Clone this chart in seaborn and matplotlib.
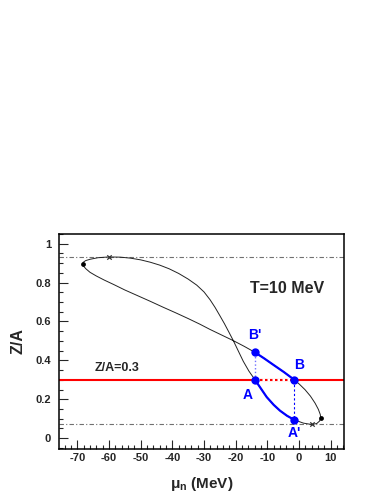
"""Z/A vs neutron chemical potential loop at T=10 MeV."""

import matplotlib

matplotlib.use("Agg")

import matplotlib.pyplot as plt
import pandas as pd
import seaborn as sns
from matplotlib.ticker import MultipleLocator

# closed loop (mu_n in MeV, Z/A)
loop_mu = [
    -68.3, -68.1, -67.4, -66.0, -63.5, -60.1, -56.5, -53.3, -50.0, -47.0,
    -44.0, -41.0, -38.0, -35.0, -32.3, -30.0, -28.1, -26.5, -25.0, -23.6,
    -22.3, -20.7, -19.2, -17.6, -15.8, -13.9, -12.0, -10.2, -8.0, -6.0,
    -3.8, -1.5, 1.4, 4.0, 5.6, 6.5, 6.85, 6.7, 6.1, 5.06,
    3.6, 1.9, 0.2, -1.5, -4.8, -8.1, -11.0, -13.9, -17.3, -20.7,
    -24.4, -28.1, -31.3, -35.0, -39.0, -43.0, -47.0, -51.0, -55.0, -58.5,
    -61.5, -64.0, -66.0, -67.3, -68.0, -68.3,
]
loop_za = [
    0.896, 0.905, 0.913, 0.920, 0.928, 0.932, 0.931, 0.926, 0.917, 0.905,
    0.890, 0.871, 0.847, 0.818, 0.787, 0.752, 0.712, 0.672, 0.630, 0.590,
    0.550, 0.500, 0.449, 0.395, 0.344, 0.300, 0.254, 0.211, 0.171, 0.141,
    0.115, 0.094, 0.077, 0.070, 0.075, 0.088, 0.105, 0.122, 0.148, 0.180,
    0.216, 0.249, 0.276, 0.300, 0.340, 0.377, 0.410, 0.441, 0.472, 0.501,
    0.530, 0.559, 0.586, 0.615, 0.645, 0.674, 0.704, 0.733, 0.762, 0.790,
    0.813, 0.834, 0.853, 0.871, 0.884, 0.896,
]

# highlighted branches
aa_mu = [-13.9, -12.0, -10.2, -8.0, -6.0, -3.8, -1.5]
aa_za = [0.300, 0.254, 0.211, 0.171, 0.141, 0.115, 0.094]
bb_mu = [-1.5, -4.8, -8.1, -11.0, -13.9]
bb_za = [0.300, 0.340, 0.377, 0.410, 0.441]

point_names = ["A", "B", "A'", "B'"]
point_mu = [-13.9, -1.5, -1.5, -13.9]
point_za = [0.300, 0.300, 0.094, 0.441]

dot_mu = [-68.3, 6.85]
dot_za = [0.896, 0.105]
cross_mu = [-60.1, 4.0]
cross_za = [0.932, 0.070]

za_max = 0.932
za_min = 0.070
za_cut = 0.3

BLUE = "#0000ff"
RED = "#ff0000"


def main() -> None:
    sns.set_style("ticks")
    plt.rcParams["font.family"] = ["Liberation Sans", "DejaVu Sans"]
    plt.rcParams["font.weight"] = "bold"
    plt.rcParams["axes.unicode_minus"] = False
    plt.rcParams["mathtext.fontset"] = "custom"
    plt.rcParams["mathtext.bf"] = "Liberation Sans:bold"
    plt.rcParams["mathtext.rm"] = "Liberation Sans"

    fig = plt.figure(figsize=(3.85, 4.98), dpi=100)
    ax = fig.add_axes([0.154, 0.0992, 0.7395, 0.4309])

    ax.set_xlim(-75.7, 14.2)
    ax.set_ylim(-0.054, 1.05)

    dashdot = (0, (4, 2, 1, 2))
    ax.axhline(za_max, color="#707070", lw=0.8, ls=dashdot, zorder=1)
    ax.axhline(za_min, color="#707070", lw=0.8, ls=dashdot, zorder=1)
    ax.axhline(za_cut, color=RED, lw=1.5, zorder=2)

    loop = pd.DataFrame({"mu": loop_mu, "za": loop_za})
    sns.lineplot(data=loop, x="mu", y="za", sort=False, estimator=None,
                 color="#222222", lw=0.7, ax=ax, zorder=3)

    # guides between the points
    ax.plot([point_mu[0], point_mu[3]], [point_za[0], point_za[3]],
            color="#6f6fff", lw=1.0, ls=":", zorder=3)
    ax.plot([point_mu[1], point_mu[2]], [point_za[1], point_za[2]],
            color=BLUE, lw=0.8, ls=(0, (2, 2)), zorder=3)
    ax.plot([point_mu[0], point_mu[1]], [point_za[0], point_za[1]],
            color="white", lw=1.6, zorder=2.5)
    ax.plot([point_mu[0], point_mu[1]], [point_za[0], point_za[1]],
            color=RED, lw=1.5, ls=(0, (1.2, 1.2)), zorder=3)

    sns.lineplot(x=aa_mu, y=aa_za, sort=False, estimator=None,
                 color=BLUE, lw=1.6, ax=ax, zorder=4)
    sns.lineplot(x=bb_mu, y=bb_za, sort=False, estimator=None,
                 color=BLUE, lw=1.6, ax=ax, zorder=4)

    sns.scatterplot(x=point_mu, y=point_za, color=BLUE, s=36,
                    edgecolor=BLUE, linewidth=0, ax=ax, zorder=5)
    sns.scatterplot(x=dot_mu, y=dot_za, color="black", s=12,
                    linewidth=0, ax=ax, zorder=5)
    ax.scatter(cross_mu, cross_za, marker="x", color="#333333", s=10,
               linewidths=0.9, zorder=5)

    label_pos = {"A": (-16.3, 0.223), "B": (0.1, 0.377),
                 "A'": (-1.5, 0.028), "B'": (-13.9, 0.532)}
    for name in point_names:
        x, y = label_pos[name]
        ax.text(x, y, name, color=BLUE, fontsize=10, fontweight="bold",
                ha="center", va="center")

    ax.text(-15.5, 0.772, "T=10 MeV", fontsize=11.5, fontweight="bold",
            ha="left", va="center")
    ax.text(-64.6, 0.36, "Z/A=0.3", fontsize=9, fontweight="bold",
            ha="left", va="center")

    ax.xaxis.set_major_locator(MultipleLocator(10))
    ax.xaxis.set_minor_locator(MultipleLocator(2))
    ax.yaxis.set_major_locator(MultipleLocator(0.2))
    ax.yaxis.set_minor_locator(MultipleLocator(0.05))
    ax.yaxis.set_major_formatter(lambda v, _: f"{v:g}")
    ax.tick_params(which="both", direction="in", top=False, right=False,
                   width=0.8, labelsize=8)
    ax.tick_params(which="major", length=6.5)
    ax.tick_params(which="minor", length=3.2)
    ax.tick_params(axis="x", pad=3)
    ax.tick_params(axis="y", pad=6)
    for lbl in ax.get_xticklabels() + ax.get_yticklabels():
        lbl.set_fontweight("bold")

    for spine in ax.spines.values():
        spine.set_visible(True)
        spine.set_linewidth(1.1)
        spine.set_color("black")

    ax.set_xlabel("\u03bc$_{\\mathbf{n}}$ (MeV)", fontsize=11, fontweight="bold")
    ax.set_ylabel("Z/A", fontsize=11.5, fontweight="bold")
    ax.xaxis.set_label_coords(0.50, -0.123)
    ax.yaxis.set_label_coords(-0.12, 0.5)

    fig.savefig("out.png", dpi=100)
    plt.close(fig)


if __name__ == "__main__":
    main()
